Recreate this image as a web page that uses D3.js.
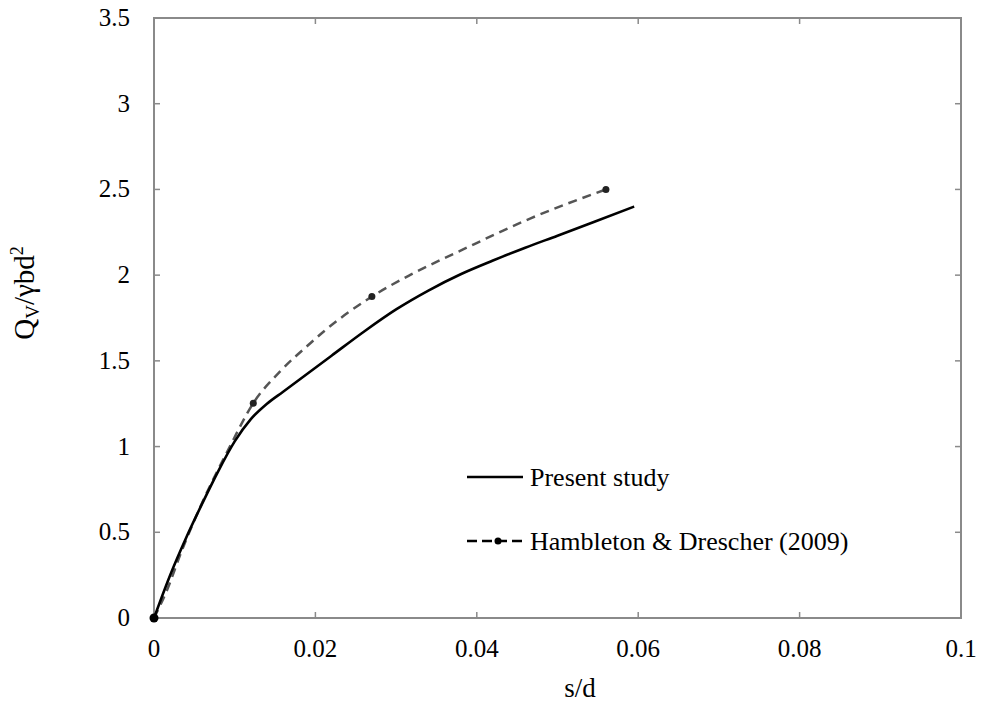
<!DOCTYPE html>
<html><head><meta charset="utf-8">
<script src="https://cdn.jsdelivr.net/npm/d3@7"></script>
<style>body{margin:0;background:#fff}svg{display:block}</style>
</head><body><svg id="c" width="981" height="705" font-family="Liberation Serif, Tinos, Noto Serif, DejaVu Serif, Times New Roman, serif"></svg>
<script>
const presentX = [0, 0.002, 0.004, 0.006, 0.008, 0.010, 0.012, 0.014, 0.016, 0.018, 0.022, 0.026, 0.030, 0.034, 0.038, 0.042, 0.046, 0.050, 0.0545, 0.0595];
const presentY = [0, 0.25, 0.47, 0.67, 0.86, 1.03, 1.16, 1.25, 1.32, 1.39, 1.53, 1.67, 1.80, 1.91, 2.005, 2.085, 2.16, 2.23, 2.31, 2.40];
const hambX = [0, 0.0015, 0.0035, 0.0056, 0.0094, 0.0123, 0.0156, 0.0193, 0.021, 0.027, 0.0317, 0.0383, 0.0466, 0.056];
const hambY = [0, 0.15, 0.40, 0.634, 1.0, 1.253, 1.437, 1.60, 1.67, 1.875, 2.0, 2.15, 2.33, 2.50];
const hambMarkX = [0, 0.0123, 0.027, 0.056];
const hambMarkY = [0, 1.253, 1.875, 2.50];
const xTicks = [0, 0.02, 0.04, 0.06, 0.08, 0.1];
const yTicks = [0, 0.5, 1, 1.5, 2, 2.5, 3, 3.5];
const seriesNames = ["Present study", "Hambleton & Drescher (2009)"];

const svg = d3.select("#c");
const L = 154, R = 961, T = 18, B = 618;
const x = d3.scaleLinear().domain([0, 0.1]).range([L, R]);
const y = d3.scaleLinear().domain([0, 3.5]).range([B, T]);
const frame = "#8a8a8a";

const g = svg.append("g");
xTicks.forEach(t => {
  g.append("line").attr("x1", x(t)).attr("x2", x(t)).attr("y1", B).attr("y2", B - 6).attr("stroke", frame).attr("stroke-width", 1.5);
  g.append("line").attr("x1", x(t)).attr("x2", x(t)).attr("y1", T).attr("y2", T + 6).attr("stroke", frame).attr("stroke-width", 1.5);
  g.append("text").attr("x", x(t)).attr("y", 657).attr("text-anchor", "middle").attr("font-size", 25).text(d3.format("~g")(t));
});
yTicks.forEach(t => {
  g.append("line").attr("x1", L).attr("x2", L + 6).attr("y1", y(t)).attr("y2", y(t)).attr("stroke", frame).attr("stroke-width", 1.5);
  g.append("line").attr("x1", R).attr("x2", R - 6).attr("y1", y(t)).attr("y2", y(t)).attr("stroke", frame).attr("stroke-width", 1.5);
  g.append("text").attr("x", 130).attr("y", y(t) + 8).attr("text-anchor", "end").attr("font-size", 25).text(d3.format("~g")(t));
});
svg.append("rect").attr("x", L).attr("y", T).attr("width", R - L).attr("height", B - T)
  .attr("fill", "none").attr("stroke", frame).attr("stroke-width", 2);

svg.append("text").attr("x", 580).attr("y", 697).attr("text-anchor", "middle").attr("font-size", 27).text("s/d");
const yl = svg.append("text").attr("transform", "translate(34,293) rotate(-90)").attr("text-anchor", "middle").attr("font-size", 29);
yl.append("tspan").text("Q");
yl.append("tspan").attr("font-size", 19).attr("dy", 5).text("V");
yl.append("tspan").attr("dy", -5).text("/γbd");
yl.append("tspan").attr("font-size", 18).attr("dy", -11).text("2");

const line = d3.line().x(d => x(d[0])).y(d => y(d[1])).curve(d3.curveMonotoneX);
const hamb = hambX.map((v, i) => [v, hambY[i]]);
const pres = presentX.map((v, i) => [v, presentY[i]]);
svg.append("path").attr("d", line(hamb)).attr("fill", "none").attr("stroke", "#555").attr("stroke-width", 2.5).attr("stroke-dasharray", "9,6");
svg.selectAll("circle.h").data(hambMarkX.map((v, i) => [v, hambMarkY[i]])).enter().append("circle")
  .attr("cx", d => x(d[0])).attr("cy", d => y(d[1])).attr("r", 3.5).attr("fill", "#222");
svg.append("path").attr("d", line(pres)).attr("fill", "none").attr("stroke", "#000").attr("stroke-width", 2.6);
svg.append("circle").attr("cx", x(0)).attr("cy", y(0)).attr("r", 4.5).attr("fill", "#000");

svg.append("line").attr("x1", 467).attr("x2", 523).attr("y1", 477).attr("y2", 477).attr("stroke", "#000").attr("stroke-width", 2.6);
svg.append("text").attr("x", 530).attr("y", 486).attr("font-size", 26).text(seriesNames[0]);
svg.append("line").attr("x1", 467).attr("x2", 523).attr("y1", 541).attr("y2", 541).attr("stroke", "#000").attr("stroke-width", 2.6).attr("stroke-dasharray", "10,5");
svg.append("circle").attr("cx", 498).attr("cy", 541).attr("r", 3.5).attr("fill", "#000");
svg.append("text").attr("x", 530).attr("y", 550).attr("font-size", 26).text(seriesNames[1]);
</script></body></html>
